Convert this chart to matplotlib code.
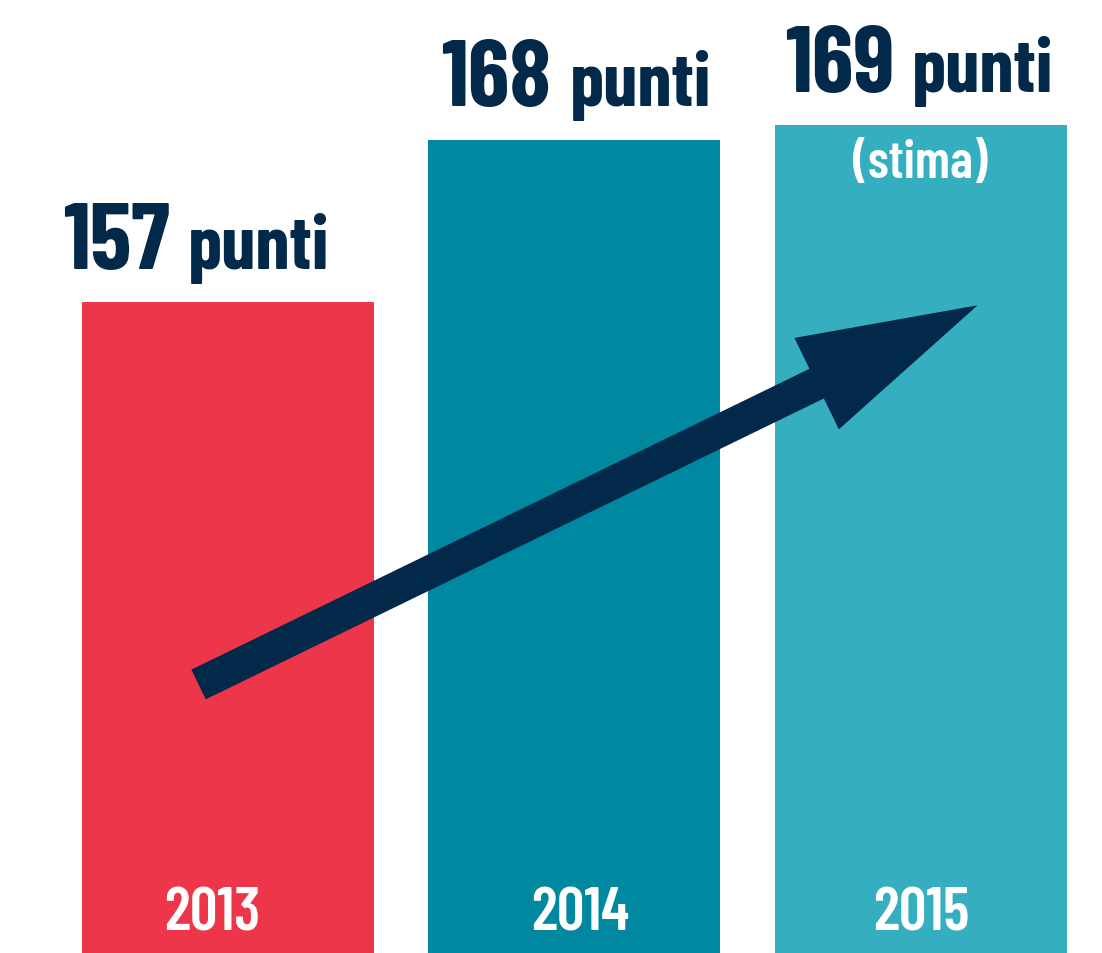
import matplotlib
matplotlib.use("Agg")
import matplotlib.pyplot as plt
from matplotlib.offsetbox import TextArea, HPacker, AnnotationBbox

# data
years = ["2013", "2014", "2015"]
points = [157, 168, 169]
unit = "punti"
notes = ["", "", "(stima)"]
colors = ["#EE364A", "#0088A0", "#35AFC0"]

NAVY = "#02284A"
FONT = ["Barlow Condensed", "DejaVu Sans"]
# small horizontal nudges (points) so labels sit where the original has them
LABEL_NUDGE = [-23, 1.5, -1]
YEAR_NUDGE = [-11.5, 4, 0]

# the trend arrow, in data units (from 2013 bar to above 2015)
ARROW_TAIL = (-0.084, 131.1)
ARROW_TIP = (2.164, 156.8)

fig = plt.figure(figsize=(11.02, 9.54), dpi=100)
ax = fig.add_axes([0, 0, 1, 1])

x = list(range(len(years)))
ax.bar(x, points, width=0.843, color=colors, zorder=1)

ax.set_xlim(-0.657, 2.523)
ax.set_ylim(112.9, 177.56)
ax.axis("off")

for xi, v, yr, note, dx, dy in zip(x, points, years, notes, LABEL_NUDGE, YEAR_NUDGE):
    num = TextArea(str(v), textprops=dict(family=FONT, weight=700, size=68, color=NAVY))
    word = TextArea(unit, textprops=dict(family=FONT, weight=700, size=55, color=NAVY))
    pack = HPacker(children=[num, word], align="baseline", pad=0, sep=13)
    ab = AnnotationBbox(pack, (xi, v), xybox=(dx, 12), xycoords="data",
                        boxcoords="offset points", box_alignment=(0.5, 0),
                        frameon=False, pad=0)
    ax.add_artist(ab)

    # year label at the foot of the bar
    ax.annotate(yr, (xi, ax.get_ylim()[0]), xytext=(dy, 17), textcoords="offset points",
                ha="center", va="baseline", family=FONT, weight=600,
                size=44, color="white")
    if note:
        ax.annotate(note, (xi, v), xytext=(0, -37), textcoords="offset points",
                    ha="center", va="baseline", family=FONT, weight=600,
                    size=38, color="white")

ax.annotate("", xy=ARROW_TIP, xytext=ARROW_TAIL,
            arrowprops=dict(arrowstyle="simple,head_length=5.37,head_width=3.05,tail_width=0.99",
                            mutation_scale=24, color=NAVY, lw=0, shrinkA=0, shrinkB=0),
            zorder=3)

fig.savefig("out.png", dpi=100)
